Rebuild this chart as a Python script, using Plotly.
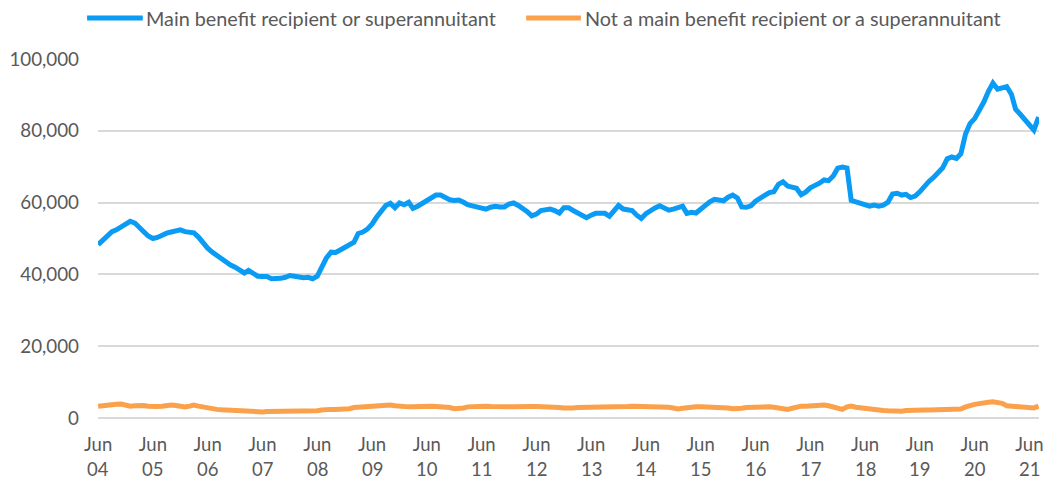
import pandas as pd
import plotly.graph_objects as go

# Monthly counts, June 2004 to August 2021
start_month = "2004-06-01"

main_benefit = [
    48300, 49500, 50600, 51900, 52400, 53100, 54100, 54800, 54300, 53000, 51900, 50700,
    50000, 50300, 51000, 51500, 51800, 52100, 52400, 51900, 51900, 51600, 50400, 48800,
    47300, 46200, 45200, 44400, 43600, 42600, 42000, 41000, 40400, 41100, 40200, 39500,
    39400, 39400, 38800, 38800, 38900, 39200, 39700, 39500, 39200, 39100, 39200, 38800,
    39500, 42000, 44600, 46200, 46100, 46800, 47600, 48300, 49000, 51400, 51800, 52600,
    54000, 55900, 57800, 59200, 59800, 58600, 59900, 59400, 60100, 58400, 59000, 59700,
    60600, 61500, 62100, 62100, 61500, 60800, 60600, 60700, 60100, 59400, 59100, 58900,
    58400, 58200, 58700, 59000, 58800, 58800, 59600, 59900, 59200, 58500, 57500, 56300,
    56800, 57800, 58000, 58200, 57800, 57100, 58600, 58600, 57800, 57100, 56400, 55800,
    56500, 57000, 57000, 57000, 56200, 57700, 59200, 58200, 57900, 57800, 56500, 55600,
    56900, 57800, 58500, 59100, 58600, 57900, 58200, 58700, 59000, 57000, 57300, 57100,
    58200, 59400, 60200, 60900, 60600, 60500, 61500, 62100, 61300, 58800, 58700, 59100,
    60400, 61400, 62000, 62800, 63000, 65100, 65800, 64600, 64100, 64000, 62200, 62900,
    64100, 64600, 65400, 66300, 66100, 67400, 69600, 69900, 69600, 60600, 60200, 59600,
    59100, 59000, 59300, 59000, 59300, 60100, 62400, 62600, 62100, 62300, 61400, 61800,
    63000, 64600, 65900, 67000, 68100, 69700, 72200, 72700, 72300, 73600, 79100, 82000,
    83400, 85400, 88000, 91000, 93300, 91600, 92100, 92300, 90200, 86000, 84600, 83200,
    81300, 80200, 83800,
]

not_main_benefit = [
    3300, 3500, 3600, 3700, 3800, 3900, 3600, 3300, 3400, 3500, 3500, 3300,
    3100, 3200, 3300, 3500, 3600, 3500, 3300, 3100, 3300, 3600, 3300, 3000,
    2800, 2600, 2400, 2300, 2200, 2100, 2000, 1900, 1900, 1800, 1700, 1700,
    1700, 1800, 1800, 1900, 1900, 1900, 1900, 1900, 1800, 1800, 1800, 1800,
    2000, 2200, 2400, 2400, 2400, 2400, 2400, 2600, 2900, 3000, 3100, 3100,
    3100, 3300, 3400, 3500, 3600, 3400, 3200, 3100, 3100, 3100, 3200, 3200,
    3300, 3300, 3200, 3200, 3100, 2900, 2600, 2600, 2800, 3100, 3200, 3200,
    3300, 3300, 3200, 3100, 3100, 3100, 3100, 3100, 3200, 3300, 3300, 3200,
    3200, 3200, 3100, 3000, 3000, 2900, 2800, 2700, 2800, 2900, 2900, 3000,
    3000, 3000, 3100, 3100, 3100, 3200, 3200, 3200, 3200, 3300, 3300, 3300,
    3300, 3300, 3300, 3300, 3200, 3000, 2800, 2500, 2700, 2900, 3000, 3100,
    3100, 3100, 3100, 3100, 3100, 3000, 2800, 2600, 2500, 2700, 2900, 3000,
    3000, 3000, 3100, 3100, 3000, 2800, 2600, 2400, 2700, 3100, 3300, 3300,
    3400, 3400, 3500, 3600, 3400, 3000, 2600, 2400, 3100, 3300, 3000, 2800,
    2600, 2400, 2300, 2200, 2100, 2000, 1900, 1800, 1900, 2100, 2200, 2200,
    2200, 2200, 2200, 2200, 2200, 2200, 2200, 2200, 2200, 2500, 3100, 3600,
    3800, 4000, 4300, 4400, 4500, 4400, 4100, 3400, 3300, 3300, 3200, 3000,
    2800, 2800, 3300,
]

series_names = [
    "Main benefit recipient or superannuitant",
    "Not a main benefit recipient or a superannuitant",
]
series_colors = ["#0A9BF5", "#FBA04B"]

tick_years = [f"{y:02d}" for y in range(4, 22)]
tick_dates = [f"20{y}-06-01" for y in tick_years]
tick_month = ["Jun"] * len(tick_years)

months = pd.date_range(start_month, periods=len(main_benefit), freq="MS")

FONT = "Lato"
TEXT_COLOR = "#595959"
GRID_COLOR = "#D9D9D9"
x_range = ["2004-05-31", "2021-08-04"]

fig = go.Figure()
for name, values, color in zip(series_names, [main_benefit, not_main_benefit], series_colors):
    fig.add_trace(go.Scatter(
        x=months, y=values, mode="lines", name=name,
        line=dict(color=color, width=5), showlegend=False,
    ))

# Legend drawn as line samples with labels above the plot
legend_y = 1.114
legend_items = [
    (-0.0116, 0.0476, 0.0487),
    (0.4550, 0.5132, 0.5153),
]
for (x0, x1, xt), name, color in zip(legend_items, series_names, series_colors):
    fig.add_shape(type="line", xref="paper", yref="paper",
                  x0=x0, x1=x1, y0=legend_y, y1=legend_y,
                  line=dict(color=color, width=5))
    fig.add_annotation(xref="paper", yref="paper", x=xt, y=legend_y,
                       text=name, showarrow=False, xanchor="left", yanchor="middle",
                       font=dict(family=FONT, size=19.8, color=TEXT_COLOR))

# Second row of category labels: the two-digit year under each "Jun"
for d, yr in zip(tick_dates, tick_years):
    fig.add_annotation(xref="x", yref="paper", x=d, y=-0.143,
                       text=yr, showarrow=False, xanchor="center", yanchor="middle",
                       font=dict(family=FONT, size=18.5, color=TEXT_COLOR))

fig.update_layout(
    width=1043, height=485, autosize=False,
    margin=dict(l=98, r=0, t=59, b=67),
    paper_bgcolor="white", plot_bgcolor="white",
    font=dict(family=FONT, size=18, color=TEXT_COLOR),
    xaxis=dict(
        type="date", range=x_range,
        tickmode="array", tickvals=tick_dates, ticktext=tick_month,
        showgrid=False, zeroline=False, showline=False, ticks="",
        ticklabelstandoff=13, ticklabeloverflow="allow",
        tickfont=dict(family=FONT, size=18.5, color=TEXT_COLOR),
    ),
    yaxis=dict(
        range=[0, 100000], dtick=20000, tickformat=",",
        showgrid=True, gridcolor=GRID_COLOR, gridwidth=1.5,
        zeroline=True, zerolinecolor=GRID_COLOR, zerolinewidth=1.5,
        ticks="", ticklabelstandoff=18,
        tickfont=dict(family=FONT, size=18.8, color=TEXT_COLOR),
    ),
)

fig.write_html("out.html")
